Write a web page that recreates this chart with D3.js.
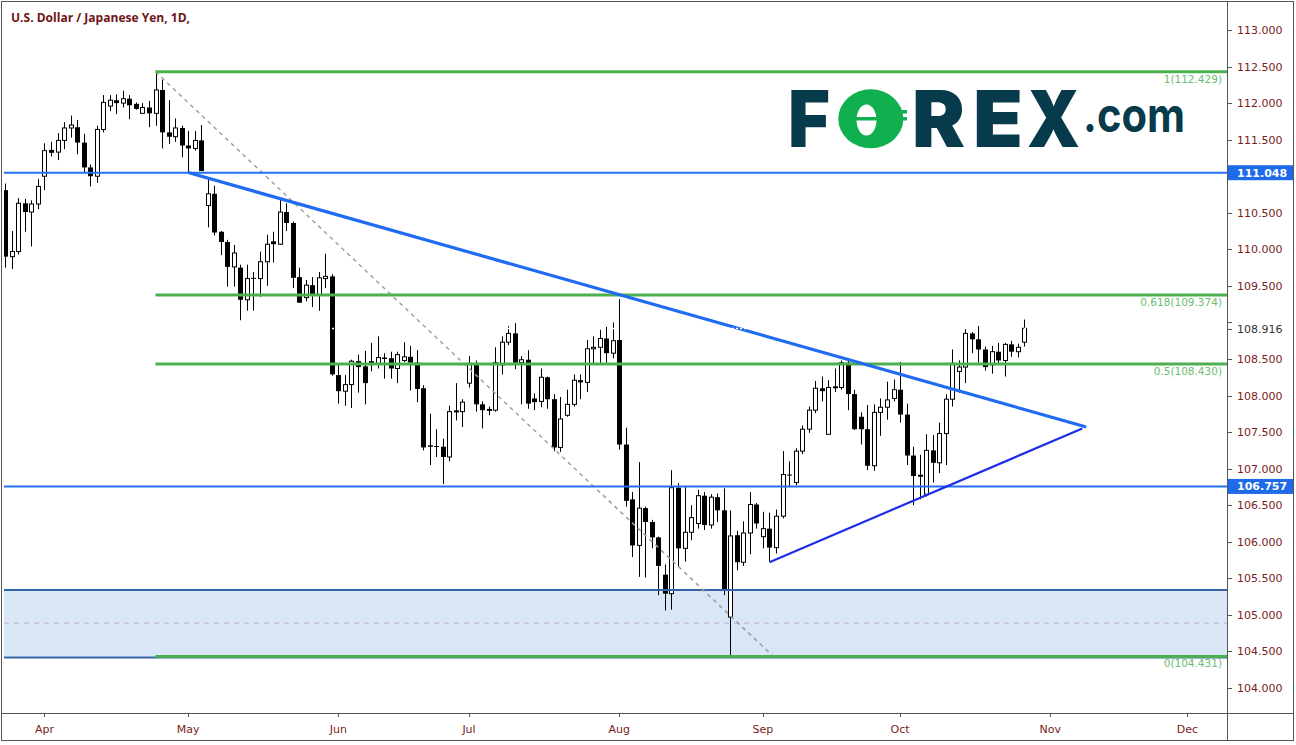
<!DOCTYPE html>
<html>
<head>
<meta charset="utf-8">
<script src="https://cdn.jsdelivr.net/npm/d3@7"></script>
<style>
body { margin: 0; background: #fff; }
svg { display: block; font-family: "DejaVu Sans", sans-serif; }
</style>
</head>
<body>
<div id="chart"></div>
<script>
// USD/JPY daily candles, Mar 22 2019 .. Oct 28 2019 (one per weekday)
const firstIndex = -6; // trading-day index of the first candle (Apr 1 = 0)
const opens = [110.81,109.90,109.97,110.63,110.51,110.62,
  111.00,111.36,111.33,111.49,111.66,111.67,111.46,111.12,111.00,111.64,111.96,112.04,112.00,112.06,111.99,111.86,111.94,111.86,112.18,111.60,111.54,111.66,
  111.42,111.38,111.49,110.60,110.76,110.24,110.10,109.76,109.75,109.31,109.61,109.60,109.83,110.11,110.07,110.51,110.36,109.62,109.34,109.51,109.37,109.60,109.63,
  108.28,108.06,108.15,108.47,108.40,108.47,108.44,108.52,108.51,108.37,108.48,108.53,108.45,108.10,107.32,107.31,107.30,107.16,107.78,107.78,
  108.17,108.44,107.88,107.80,107.80,108.42,108.73,108.85,108.45,108.49,107.96,107.92,108.25,107.95,107.29,107.73,107.88,108.21,108.18,108.64,108.66,108.78,108.58,
  108.76,107.33,106.58,105.95,106.46,106.27,106.06,105.55,105.29,106.74,105.91,106.13,106.25,106.63,106.23,106.61,106.43,104.97,106.09,105.72,106.12,106.51,
  106.07,106.18,105.92,106.35,106.92,106.81,107.24,107.54,107.80,108.10,107.47,108.11,108.11,108.45,108.02,107.71,107.54,107.04,107.77,107.84,107.96,
  108.08,107.74,107.18,106.90,106.65,107.25,107.08,107.48,107.95,108.33,108.39,108.85,108.77,108.63,108.42,108.60,108.48,108.70,108.60,108.73];
const highs = [110.90,110.25,110.70,110.69,110.67,110.96,
  111.45,111.47,111.59,111.74,111.83,111.77,111.58,111.16,111.69,112.11,112.11,112.12,112.17,112.11,112.01,112.00,112.03,112.43,112.32,112.04,111.79,111.69,
  111.62,111.62,111.70,110.96,110.87,110.25,110.13,110.06,109.79,109.79,109.69,109.97,110.20,110.24,110.70,110.63,110.38,109.75,109.58,109.62,109.69,109.94,109.66,
  108.44,108.28,108.49,108.56,108.61,108.72,108.81,108.58,108.60,108.60,108.73,108.68,108.62,108.14,107.75,107.54,107.41,107.86,108.17,107.95,
  108.54,108.48,107.92,107.85,108.66,108.81,108.95,108.99,108.54,108.62,108.03,108.37,108.26,108.02,107.98,108.08,108.29,108.29,108.76,108.81,108.90,108.94,109.00,
  109.32,107.56,106.68,107.09,106.48,106.30,106.07,105.69,106.98,106.80,106.76,106.50,106.71,106.68,106.65,106.66,106.73,106.43,106.15,106.28,106.68,106.53,
  106.41,106.40,106.44,107.24,107.10,107.28,107.59,107.85,108.20,108.26,108.21,108.37,108.48,108.48,108.08,107.77,107.87,107.88,107.96,108.19,108.22,
  108.46,107.89,107.30,107.19,107.47,107.46,107.63,108.02,108.63,108.48,108.92,108.87,108.95,108.67,108.68,108.72,108.72,108.75,108.71,109.04];
const lows = [109.75,109.73,109.93,110.24,110.04,110.55,
  110.81,111.27,111.22,111.37,111.53,111.30,111.05,110.86,110.91,111.60,111.89,111.85,111.94,111.78,111.91,111.85,111.67,111.69,111.38,111.44,111.47,111.26,
  111.05,111.35,111.07,110.30,110.19,109.92,109.49,109.49,109.03,109.16,109.16,109.35,109.50,109.82,110.06,110.25,109.47,109.27,109.29,109.21,109.16,109.47,108.27,
  107.89,107.86,107.83,108.04,107.88,108.33,108.37,108.23,108.23,108.17,108.46,108.07,107.91,107.25,107.05,107.16,106.79,107.10,107.66,107.57,
  108.11,107.78,107.55,107.73,107.78,108.29,108.69,108.36,107.88,107.82,107.80,107.84,107.82,107.24,107.23,107.71,107.85,107.95,108.05,108.44,108.44,108.45,108.51,
  107.26,106.48,105.79,105.52,105.51,105.91,105.27,105.06,105.07,105.66,105.73,106.02,106.18,106.16,106.18,106.27,105.27,104.45,105.61,105.67,105.83,106.18,
  105.91,105.73,105.84,106.32,106.75,106.77,107.20,107.49,107.76,107.92,107.47,108.05,108.08,107.80,107.53,107.33,106.98,106.97,107.45,107.67,107.92,
  107.63,107.05,106.50,106.58,106.62,106.81,106.94,107.05,107.85,108.04,108.17,108.58,108.45,108.34,108.30,108.43,108.26,108.53,108.52,108.67];
const closes = [109.90,109.97,110.63,110.51,110.62,110.86,
  111.35,111.32,111.49,111.66,111.70,111.46,111.12,111.00,111.64,112.01,112.04,112.00,112.06,111.97,111.92,111.94,111.86,112.18,111.60,111.54,111.66,111.42,
  111.38,111.49,111.07,110.76,110.23,110.10,109.76,109.95,109.31,109.60,109.60,109.83,110.07,110.07,110.51,110.36,109.61,109.27,109.51,109.37,109.61,109.63,108.29,
  108.06,108.15,108.47,108.39,108.17,108.44,108.52,108.50,108.37,108.56,108.53,108.45,108.09,107.29,107.30,107.30,107.16,107.78,107.79,107.91,
  108.44,107.88,107.80,107.81,108.45,108.73,108.85,108.45,108.49,107.89,107.91,108.25,107.95,107.29,107.68,107.88,108.21,108.18,108.64,108.66,108.78,108.58,108.75,
  107.33,106.56,105.95,106.46,106.27,106.06,105.67,105.29,106.74,105.91,106.13,106.33,106.63,106.23,106.61,106.43,105.35,106.08,105.72,106.12,106.51,106.25,
  106.18,105.92,106.35,106.92,106.91,107.24,107.54,107.80,108.10,108.06,108.11,108.12,108.45,108.02,107.54,107.54,107.04,107.77,107.84,107.94,108.08,
  107.74,107.18,106.90,106.91,107.25,107.08,107.48,107.95,108.44,108.39,108.85,108.77,108.63,108.39,108.60,108.48,108.70,108.60,108.66,108.92];

const monthLabels = ["Apr", "May", "Jun", "Jul", "Aug", "Sep", "Oct", "Nov", "Dec"];
const monthStarts = [0, 22, 45, 65, 88, 110, 131, 154, 175];
const priceTicks = [104, 104.5, 105, 105.5, 106, 106.5, 107, 107.5, 108, 108.5, 109,
  109.5, 110, 110.5, 111, 111.5, 112, 112.5, 113];

const fibRatios = ["1", "0.618", "0.5", "0"];
const fibPrices = [112.429, 109.374, 108.430, 104.431];
const fibStart = 17;               // Apr 24 high
const fibDiagonal = [[17, 112.429], [111.6, 104.431]];
const keyLevels = [111.048, 106.757];
const lastPrice = 108.916;
const zoneTop = 105.34, zoneBottom = 104.431;
const downTrend = [[22, 111.05], [159.5, 107.57]];
const upTrend = [[111, 105.72], [158.9, 107.55]];

const W = 1296, H = 745;
const plot = { left: 4, right: 1227, top: 2, bottom: 713 };
const maroon = "#7a1c1c";

const x = d3.scaleLinear().domain([-6.2, 180.9]).range([plot.left, 1226]);
const y = d3.scaleLinear().domain([104, 113]).range([688, 30]);

const svg = d3.select("#chart").append("svg")
  .attr("width", W).attr("height", H);

svg.append("rect").attr("width", W).attr("height", H).attr("fill", "#fff");

svg.append("clipPath").attr("id", "clip")
  .append("rect")
  .attr("x", plot.left).attr("y", plot.top)
  .attr("width", plot.right - plot.left).attr("height", plot.bottom - plot.top);

const g = svg.append("g").attr("clip-path", "url(#clip)");

// support zone
g.append("rect")
  .attr("x", plot.left).attr("y", y(zoneTop))
  .attr("width", plot.right - plot.left).attr("height", y(zoneBottom) - y(zoneTop))
  .attr("fill", "#d8e6f5");

// title
svg.append("text")
  .attr("x", 11).attr("y", 22)
  .attr("font-family", "'Open Sans', sans-serif")
  .attr("font-weight", 700).attr("font-size", 12.5)
  .attr("fill", "#6e1515")
  .attr("textLength", 179).attr("lengthAdjust", "spacingAndGlyphs")
  .text("U.S. Dollar / Japanese Yen, 1D,");

// logo
const logo = svg.append("g").attr("font-family", "Inter, sans-serif");
const navy = "#073b4c", green = "#10b04e";
[["F", 788, 42], ["R", 912, 53], ["E", 973, 50], ["X", 1027, 53]].forEach(([ch, lx, lw]) => {
  logo.append("text").attr("x", lx).attr("y", 147)
    .attr("font-size", 78).attr("font-weight", 900).attr("fill", navy)
    .attr("textLength", lw).attr("lengthAdjust", "spacingAndGlyphs")
    .text(ch);
});
logo.append("ellipse").attr("cx", 870.8).attr("cy", 118.8).attr("rx", 32.5).attr("ry", 29.5).attr("fill", green);
logo.append("ellipse").attr("cx", 866.5).attr("cy", 120).attr("rx", 10).attr("ry", 15.5).attr("fill", "#fff");
logo.append("rect").attr("x", 856).attr("y", 117).attr("width", 22).attr("height", 3.5).attr("fill", green);
logo.append("rect").attr("x", 893).attr("y", 110).attr("width", 14).attr("height", 3.5).attr("fill", green);
logo.append("rect").attr("x", 893).attr("y", 117).attr("width", 14).attr("height", 3.5).attr("fill", green);
logo.append("text").attr("x", 1083).attr("y", 132)
  .attr("font-size", 48).attr("font-weight", 700).attr("fill", navy)
  .attr("textLength", 102).attr("lengthAdjust", "spacingAndGlyphs")
  .text(".com");

// candles
const candles = opens.map((o, k) => ({ i: firstIndex + k, o, h: highs[k], l: lows[k], c: closes[k] }));
const cg = g.append("g");
cg.selectAll("line.wick").data(candles).join("line")
  .attr("class", "wick")
  .attr("x1", d => Math.round(x(d.i)) + 0.5).attr("x2", d => Math.round(x(d.i)) + 0.5)
  .attr("y1", d => y(d.h)).attr("y2", d => y(d.l))
  .attr("stroke", "#000").attr("stroke-width", 1);
cg.selectAll("rect.body").data(candles).join("rect")
  .attr("class", "body")
  .attr("x", d => d.c >= d.o ? Math.round(x(d.i)) - 1.5 : Math.round(x(d.i)) - 2)
  .attr("width", d => d.c >= d.o ? 4 : 5)
  .attr("y", d => y(Math.max(d.o, d.c)))
  .attr("height", d => Math.max(1, Math.abs(y(d.o) - y(d.c))))
  .attr("fill", d => d.c >= d.o ? "#fff" : "#000")
  .attr("stroke", d => d.c >= d.o ? "#000" : "none")
  .attr("stroke-width", 1);

// zone borders
g.append("line")
  .attr("x1", plot.left).attr("x2", plot.right)
  .attr("y1", y((zoneTop + zoneBottom) / 2)).attr("y2", y((zoneTop + zoneBottom) / 2))
  .attr("stroke", "#c9bfe2").attr("stroke-width", 1.5).attr("stroke-dasharray", "5,5");
g.append("line")
  .attr("x1", plot.left).attr("x2", plot.right)
  .attr("y1", y(zoneTop)).attr("y2", y(zoneTop))
  .attr("stroke", "#3464a8").attr("stroke-width", 2);
g.append("line")
  .attr("x1", plot.left).attr("x2", plot.right)
  .attr("y1", y(zoneBottom) + 1).attr("y2", y(zoneBottom) + 1)
  .attr("stroke", "#3464a8").attr("stroke-width", 2);

// fib retracement
const line = d3.line().x(d => x(d[0])).y(d => y(d[1]));
g.append("path").attr("d", line(fibDiagonal))
  .attr("fill", "none").attr("stroke", "#9e9e9e").attr("stroke-width", 1.5)
  .attr("stroke-dasharray", "4,4");
g.selectAll("line.fib").data(fibPrices).join("line")
  .attr("class", "fib")
  .attr("x1", x(fibStart)).attr("x2", plot.right)
  .attr("y1", d => y(d)).attr("y2", d => y(d))
  .attr("stroke", "#4caf50").attr("stroke-width", 3);
g.selectAll("text.fib").data(fibPrices).join("text")
  .attr("class", "fib")
  .attr("x", 1222).attr("y", d => y(d) + 11)
  .attr("text-anchor", "end").attr("font-size", 10.5).attr("fill", "#6dbd71")
  .text((d, k) => `${fibRatios[k]}(${d.toFixed(3)})`);

// key horizontal levels
g.selectAll("line.key").data(keyLevels).join("line")
  .attr("class", "key")
  .attr("x1", plot.left).attr("x2", plot.right)
  .attr("y1", d => y(d)).attr("y2", d => y(d))
  .attr("stroke", "#2470f0").attr("stroke-width", 2);

// trend lines
g.append("path").attr("d", line(downTrend))
  .attr("fill", "none").attr("stroke", "#1f6cf2").attr("stroke-width", 3.2);
g.append("path").attr("d", line(upTrend))
  .attr("fill", "none").attr("stroke", "#1c2fe6").attr("stroke-width", 2.2);

// last price line
g.append("line")
  .attr("x1", plot.left).attr("x2", plot.right)
  .attr("y1", y(lastPrice)).attr("y2", y(lastPrice))
  .attr("stroke", "#fff").attr("stroke-width", 1.5).attr("stroke-dasharray", "2,2");

// right axis (labels hidden behind the price boxes are skipped)
const boxed = keyLevels.concat([lastPrice]);
const yAxis = svg.append("g");
yAxis.selectAll("line").data(priceTicks).join("line")
  .attr("x1", plot.right).attr("x2", plot.right + 5)
  .attr("y1", d => Math.round(y(d)) + 0.5).attr("y2", d => Math.round(y(d)) + 0.5)
  .attr("stroke", "#555");
yAxis.selectAll("text")
  .data(priceTicks.filter(t => boxed.every(b => Math.abs(y(t) - y(b)) > 12)))
  .join("text")
  .attr("x", 1237).attr("y", d => y(d) + 4)
  .attr("font-size", 11).attr("fill", maroon)
  .text(d => d3.format(".3f")(d));

keyLevels.forEach(v => {
  svg.append("rect").attr("x", plot.right + 0.5).attr("y", y(v) - 7.5)
    .attr("width", 66).attr("height", 15).attr("fill", "#1e6ae8");
  svg.append("text").attr("x", 1237).attr("y", y(v) + 4)
    .attr("font-size", 11).attr("font-weight", "bold").attr("fill", "#fff")
    .text(d3.format(".3f")(v));
});
svg.append("line").attr("x1", plot.right).attr("x2", plot.right + 5)
  .attr("y1", Math.round(y(lastPrice)) + 0.5).attr("y2", Math.round(y(lastPrice)) + 0.5).attr("stroke", "#555");
svg.append("text").attr("x", 1237).attr("y", y(lastPrice) + 4)
  .attr("font-size", 11).attr("fill", "#333")
  .text(d3.format(".3f")(lastPrice));

// bottom axis
const xAxis = svg.append("g");
xAxis.selectAll("line").data(monthStarts).join("line")
  .attr("x1", d => Math.round(x(d)) + 0.5).attr("x2", d => Math.round(x(d)) + 0.5)
  .attr("y1", plot.bottom).attr("y2", plot.bottom + 4)
  .attr("stroke", "#555");
xAxis.selectAll("text").data(monthStarts).join("text")
  .attr("x", d => x(d)).attr("y", 733)
  .attr("text-anchor", "middle").attr("font-size", 11).attr("fill", maroon)
  .text((d, k) => monthLabels[k]);

// frame
svg.append("rect").attr("x", 1.5).attr("y", 1.5).attr("width", 1292).attr("height", 739)
  .attr("fill", "none").attr("stroke", "#555");
svg.append("line").attr("x1", plot.right + 0.5).attr("x2", plot.right + 0.5)
  .attr("y1", 1).attr("y2", 741).attr("stroke", "#555");
svg.append("line").attr("x1", 1).attr("x2", 1294)
  .attr("y1", plot.bottom + 0.5).attr("y2", plot.bottom + 0.5).attr("stroke", "#555");
</script>
</body>
</html>
